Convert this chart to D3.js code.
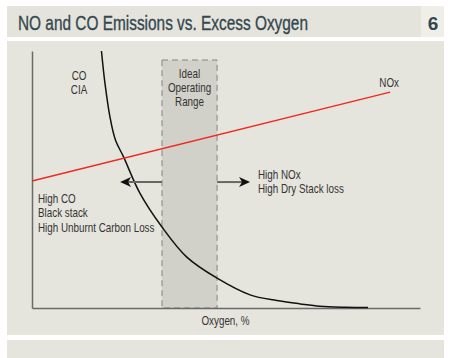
<!DOCTYPE html>
<html><head><meta charset="utf-8">
<script src="https://cdn.jsdelivr.net/npm/d3@7"></script>
<style>
html,body{margin:0;padding:0;background:#fff;}
svg{display:block;}
text{font-family:"Liberation Sans",Arial,sans-serif;}
</style></head>
<body>
<script>
// ---- data ----
const title = "NO and CO Emissions vs. Excess Oxygen";
const figNumber = "6";
const xAxisLabel = "Oxygen, %";
// CO curve (oxygen %, relative level)
const coX = [1.79, 1.88, 2.01, 2.15, 2.36, 2.78, 3.35, 3.99, 4.77, 5.62, 6.31, 6.91, 7.42, 8.07, 8.66];
const coY = [100, 87.5, 74.3, 65.4, 58.8, 44.7, 31.5, 19.8, 11.6, 5.1, 2.9, 1.6, 0.66, 0.27, 0.16];
// NOx line
const noxX = [0, 9.23];
const noxY = [49.4, 84.0];
// Ideal operating range
const idealRange = [3.35, 4.77];
const idealTop = 96.5;
const idealLabel = ["Ideal", "Operating", "Range"];
const coLabel = ["CO", "CIA"];
const leftNote = ["High CO", "Black stack", "High Unburnt Carbon Loss"];
const rightNote = ["High NOx", "High Dry Stack loss"];
const arrowLevel = 49.0;
const arrowLeftTip = 2.27;
const arrowRightTip = 5.62;

// ---- drawing ----
const W = 450, H = 358;
const svg = d3.select("body").append("svg").attr("width", W).attr("height", H);

// panels
svg.append("rect").attr("x", 7).attr("y", 6).attr("width", 414).attr("height", 31).attr("fill", "#e5e4dc");
svg.append("rect").attr("x", 421).attr("y", 6).attr("width", 23).attr("height", 31).attr("fill", "#efeee9");
svg.append("rect").attr("x", 7).attr("y", 41).attr("width", 437).attr("height", 294).attr("fill", "#e6e5dd");
svg.append("rect").attr("x", 7).attr("y", 340).attr("width", 437).attr("height", 18).attr("fill", "#e6e5dd");

svg.append("text").attr("x", 18).attr("y", 29.5).attr("font-size", 21).attr("fill", "#33474f")
  .attr("stroke", "#33474f").attr("stroke-width", 0.35)
  .attr("textLength", 290).attr("lengthAdjust", "spacingAndGlyphs").text(title);
svg.append("text").attr("x", 433).attr("y", 29.5).attr("font-size", 19).attr("font-weight", "bold")
  .attr("text-anchor", "middle").attr("fill", "#33474f").text(figNumber);

const x = d3.scaleLinear().domain([0, 10]).range([32, 420]);
const y = d3.scaleLinear().domain([0, 100]).range([308, 51]);

// ideal operating range box
svg.append("rect")
  .attr("x", x(idealRange[0])).attr("y", y(idealTop))
  .attr("width", x(idealRange[1]) - x(idealRange[0])).attr("height", y(0) - y(idealTop))
  .attr("fill", "#d1d0c9").attr("stroke", "#858585").attr("stroke-width", 1).attr("stroke-dasharray", "6,4");

// axes
const xAxis = d3.axisBottom(x).tickValues([]).tickSizeOuter(0);
const yAxis = d3.axisLeft(y).tickValues([]).tickSizeOuter(0);
svg.append("g").attr("transform", `translate(0,${y(0)})`).call(xAxis)
  .select(".domain").attr("stroke", "#6a6a6a").attr("stroke-width", 1.5);
svg.append("g").attr("transform", `translate(${x(0)},0)`).call(yAxis)
  .select(".domain").attr("stroke", "#6a6a6a").attr("stroke-width", 1.5);

// CO curve
const coData = coX.map((v, i) => [v, coY[i]]);
svg.append("path").datum(coData)
  .attr("d", d3.line().x(d => x(d[0])).y(d => y(d[1])).curve(d3.curveCatmullRom.alpha(0.5)))
  .attr("fill", "none").attr("stroke", "#111").attr("stroke-width", 1.5);

// NOx line
const noxData = noxX.map((v, i) => [v, noxY[i]]);
svg.append("path").datum(noxData)
  .attr("d", d3.line().x(d => x(d[0])).y(d => y(d[1])))
  .attr("fill", "none").attr("stroke", "#f0281e").attr("stroke-width", 1.5);

// arrows
function arrow(x0, x1) {
  const dir = Math.sign(x1 - x0);
  const ya = y(arrowLevel);
  svg.append("line").attr("x1", x0).attr("x2", x1 - dir * 8).attr("y1", ya).attr("y2", ya)
    .attr("stroke", "#666").attr("stroke-width", 2);
  svg.append("path")
    .attr("d", `M${x1},${ya} L${x1 - dir * 11},${ya - 5} L${x1 - dir * 8},${ya} L${x1 - dir * 11},${ya + 5} Z`)
    .attr("fill", "#111");
}
arrow(x(idealRange[0]), x(arrowLeftTip));
arrow(x(idealRange[1]), x(arrowRightTip));

// labels (narrow text via horizontal scale)
const tcol = "#333";
const fs = 12;
const sx = 0.82;
function label(t, xp, yp, anchor) {
  svg.append("text").attr("transform", `translate(${xp},${yp}) scale(${sx},1)`)
    .attr("font-size", fs).attr("fill", tcol).attr("text-anchor", anchor).text(t);
}
function lines(arr, xp, y0, dy, anchor) {
  arr.forEach((t, i) => label(t, xp, y0 + i * dy, anchor));
}
lines(coLabel, 79, 79.5, 14.8, "middle");
lines(idealLabel, (x(idealRange[0]) + x(idealRange[1])) / 2, 77.5, 14, "middle");
label("NOx", 399, 87.3, "end");
lines(rightNote, 258, 178.7, 14.2, "start");
lines(leftNote, 38, 202.5, 14.8, "start");
label(xAxisLabel, 225.5, 325.3, "middle");
</script>
</body></html>
